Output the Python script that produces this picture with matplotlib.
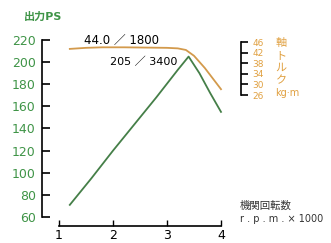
import matplotlib.pyplot as plt
import numpy as np

plt.rcParams['font.family'] = ['DejaVu Sans', 'Noto Sans CJK JP']

# engine speed (x1000 rpm)
rpm_power = [1.2, 1.6, 2.0, 2.4, 2.8, 3.2, 3.4, 3.6, 3.8, 4.0]
power_ps = [71, 95, 120, 144, 168, 193, 205, 190, 172, 155]

rpm_torque = [1.2, 1.5, 1.8, 2.2, 2.6, 3.0, 3.2, 3.35, 3.5, 3.7, 4.0]
torque_kgm = [43.4, 43.8, 44.0, 44.0, 43.9, 43.8, 43.6, 43.0, 40.8, 36.2, 28.2]

ps_ticks = [60, 80, 100, 120, 140, 160, 180, 200, 220]
torque_ticks = [26, 30, 34, 38, 42, 46]
x_ticks = [1, 2, 3, 4]

green = '#457f48'
green_txt = '#3f9447'
orange = '#d39a4c'
orange_txt = '#e0a040'

W, H = 331, 243
fig = plt.figure(figsize=(W / 100, H / 100), dpi=100)
ax = fig.add_axes([42 / W, (H - 226) / H, (300 - 42) / W, (226 - 30) / H])

ax.plot(rpm_power, power_ps, color=green, lw=1.3)
ax.set_xlim(0.685, 5.463)
ax.set_ylim(51.9, 229.0)

for s in ['top', 'right']:
    ax.spines[s].set_visible(False)
ax.spines['left'].set_bounds(60, 220)
ax.spines['bottom'].set_bounds(1, 4)
ax.spines['left'].set_linewidth(1.2)
ax.spines['bottom'].set_linewidth(1.2)
ax.set_yticks(ps_ticks)
ax.set_xticks(x_ticks)
ax.tick_params(axis='y', direction='in', length=6, width=1.2, pad=4.5,
               labelsize=9, labelcolor=green_txt)
ax.tick_params(axis='x', direction='in', length=4, width=1, pad=2,
               labelsize=9)

# torque on its own scale
ax2 = ax.twinx()
ax2.plot(rpm_torque, torque_kgm, color=orange, lw=1.3)
ax2.set_ylim(-23.4, 50.53)
for s in ['top', 'left', 'bottom']:
    ax2.spines[s].set_visible(False)
ax2.spines['right'].set_position(('data', 4.37))
ax2.spines['right'].set_bounds(26, 46)
ax2.spines['right'].set_linewidth(1.2)
ax2.set_yticks(torque_ticks)
ax2.tick_params(axis='y', direction='out', length=5, width=1.2, pad=3,
                labelsize=6.5, labelcolor=orange_txt)

fig.text(43 / W, 1 - 17 / H, '出力PS', color=green_txt, fontsize=8,
         fontweight='bold', ha='center', va='center')
fig.text(84 / W, 1 - 40 / H, '44.0 ／ 1800', fontsize=8.5, ha='left', va='center')
fig.text(110 / W, 1 - 62 / H, '205 ／ 3400', fontsize=8, ha='left', va='center')

for ch, yp in zip('軸トルク', [43, 56, 68, 80]):
    fig.text(281 / W, 1 - yp / H, ch, color=orange_txt, fontsize=8,
             ha='center', va='center')
fig.text(287 / W, 1 - 93 / H, 'kg·m', color=orange_txt, fontsize=7,
         ha='center', va='center')

fig.text(240 / W, 1 - 206 / H, '機関回転数', color='#333333', fontsize=7.5,
         ha='left', va='center')
fig.text(240 / W, 1 - 219 / H, 'r . p . m . × 1000', color='#333333', fontsize=7,
         ha='left', va='center')

fig.savefig('out.png', dpi=100)
